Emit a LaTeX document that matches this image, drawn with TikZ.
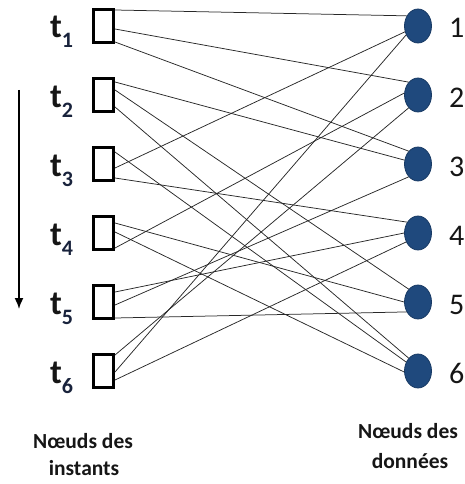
\documentclass[tikz,border=0pt]{standalone}
\usepackage{fontspec}
\setmainfont{Carlito}
\usetikzlibrary{arrows.meta,shapes.geometric}
\definecolor{dotblue}{RGB}{31,73,125}
\definecolor{dotedge}{RGB}{24,58,100}
\definecolor{txt}{RGB}{22,22,22}
\definecolor{subtxt}{RGB}{25,35,60}
\definecolor{linkcol}{RGB}{40,40,40}
\begin{document}
\begin{tikzpicture}[x=1pt,y=-1pt,
  inst/.style={draw=black, line width=3pt, fill=white, minimum width=20pt, minimum height=33pt, inner sep=0pt},
  datum/.style={ellipse, draw=dotedge, line width=0.8pt, fill=dotblue, minimum width=27pt, minimum height=34pt, inner sep=0pt},
  link/.style={draw=linkcol, line width=0.75pt},
  tlab/.style={anchor=base west, inner sep=0pt, text=txt},
  nlab/.style={anchor=base west, inner sep=0pt, text=txt, font=\fontsize{30}{30}\selectfont},
  caption/.style={anchor=base, inner sep=0pt, text=txt, font=\fontsize{21.5}{26}\selectfont\bfseries}]
\useasboundingbox (0,0) rectangle (465,484);

% instant and data nodes
\foreach \i/\y in {1/26,2/95,3/164,4/233,5/302,6/371}{
  \node[inst] (t\i) at (103.5,\y) {};
  \node[datum] (c\i) at (418,\y) {};
  \node[tlab] (tl\i) at (50,\y+12) {{\fontsize{34}{34}\selectfont\bfseries t}\raisebox{-10pt}{\fontsize{22}{22}\selectfont\bfseries\color{subtxt}\i}};
  \node[nlab] (nl\i) at (449,\y+12) {\i};
}

% connectors
\draw[link] ([yshift=16pt]t1.east) -- (c1.138);
\draw[link] ([yshift=-3pt]t1.east) -- (c2.126);
\draw[link] ([yshift=-16pt]t1.east) -- (c3.126);

\draw[link] ([yshift=13pt]t2.east) -- (c3.164);
\draw[link] ([yshift=5pt]t2.east) -- (c5.126);
\draw[link] ([yshift=-12pt]t2.east) -- (c6.126);

\draw[link] ([yshift=12pt]t3.east) -- (c6.143);
\draw[link] ([yshift=-4pt]t3.east) -- (c1.204);
\draw[link] ([yshift=-14pt]t3.east) -- (c4.135);

\draw[link] ([yshift=10pt]t4.east) -- (c5.180);
\draw[link] ([yshift=1pt]t4.east) -- (c6.184);
\draw[link] ([yshift=-15pt]t4.east) -- (c2.172);

\draw[link] ([yshift=10pt]t5.east) -- (c4.180);
\draw[link] ([yshift=-3pt]t5.east) -- (c3.234);
\draw[link] ([yshift=-16pt]t5.east) -- (c5.221);

\draw[link] ([yshift=16pt]t6.east) -- (c2.234);
\draw[link] ([yshift=-1pt]t6.east) -- (c1.217);
\draw[link] ([yshift=-9pt]t6.east) -- (c4.217);

% time arrow
\coordinate (astart) at (19,90);
\coordinate (aend) at (19,309);
\draw[line width=1.6pt, -{Latex[length=11pt,width=9pt]}] (astart) -- (aend);

% captions
\node[caption] (capl1) at (83,448) {Nœuds des};
\node[caption] (capl2) at (84,475) {instants};
\node[caption] (capr1) at (408,438) {Nœuds des};
\node[caption] (capr2) at (410,468) {données};
\end{tikzpicture}
\end{document}
